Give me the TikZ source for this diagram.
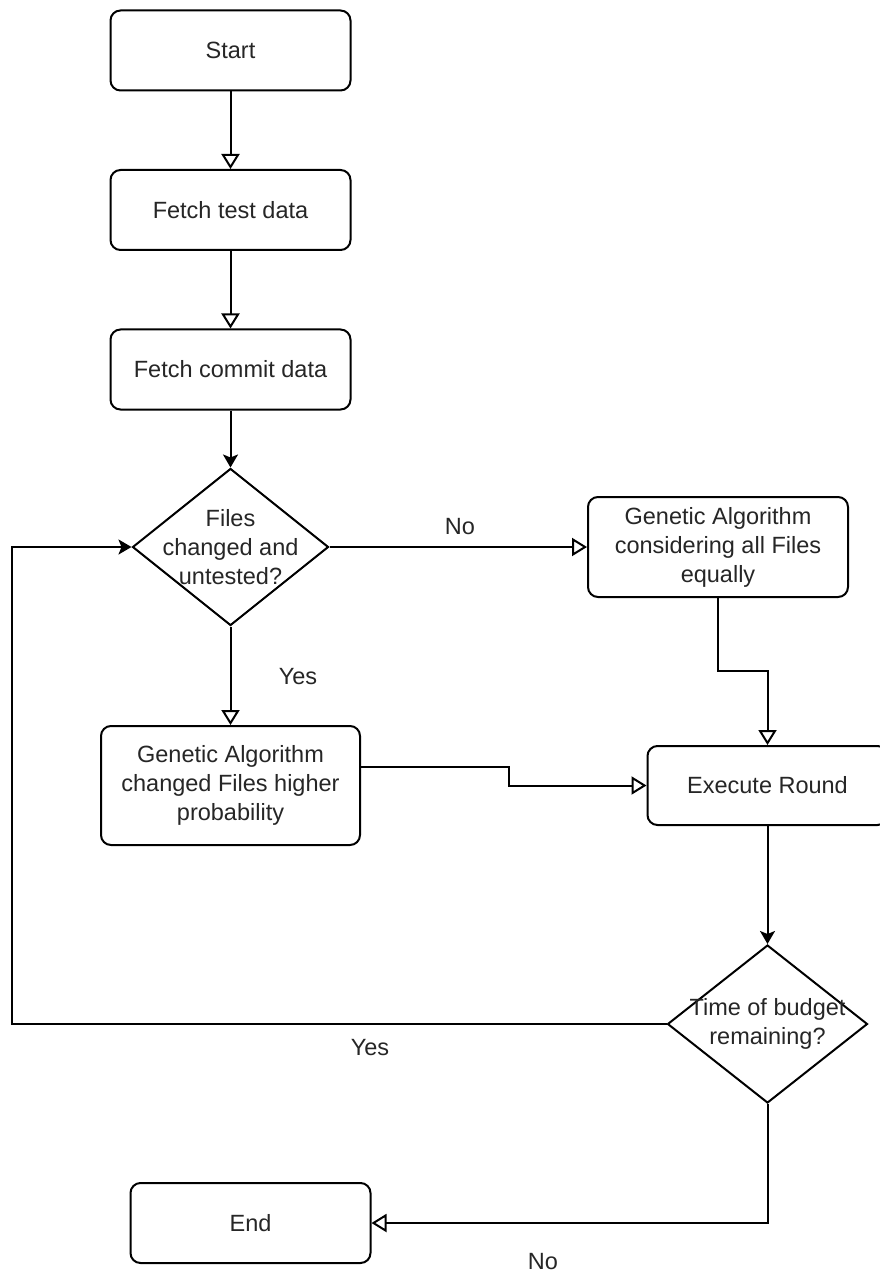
\documentclass[tikz,border=0pt]{standalone}
\usepackage{fontspec}
\setmainfont{Liberation Sans}
\usetikzlibrary{arrows.meta,shapes.geometric}
\begin{document}
\begin{tikzpicture}[x=0.5pt,y=-0.5pt,
  font=\fontsize{11.75pt}{14.5pt}\selectfont,
  line width=1pt,
  txt/.style={align=center,inner sep=0pt,text=black!85},
  procbox/.style={draw,rectangle,rounded corners=5pt,fill=white,
    minimum width=120pt,minimum height=40pt,txt},
  decision/.style={draw,diamond,fill=white,inner sep=0pt},
  lbl/.style={txt},
  openarrow/.style={-{Triangle[open,length=7.5pt,width=9pt]}},
  fullarrow/.style={-{Stealth[length=6.5pt,width=7.5pt,inset=1.5pt]}}]
\useasboundingbox (0,0) rectangle (879,1278);

% process boxes
\node[procbox] (start) at (230.5,50.5) {Start};
\node[procbox] (fetchtest) at (230.5,210) {Fetch test data};
\node[procbox] (fetchcommit) at (230.5,369.5) {Fetch commit data};
\node[procbox,minimum width=130pt,minimum height=50pt] (gaall) at (718,547)
  {Genetic Algorithm\\considering all Files\\equally};
\node[procbox,minimum width=129.5pt,minimum height=59.5pt] (gachanged) at (230.5,785.5)
  {Genetic Algorithm\\changed Files higher\\probability};
\node[procbox,minimum height=39.5pt] (exec) at (767.5,785.5) {Execute Round};
\node[procbox] (finish) at (250.5,1223) {End};

% decisions
\node[decision,minimum width=98pt,minimum height=78.5pt,
  label={[txt]center:{Files\\changed and\\untested?}}] (d1) at (230.5,547) {};
\node[decision,minimum width=100pt,minimum height=79pt,
  label={[txt]center:{Time of budget\\remaining?}}] (d2) at (767.5,1024) {};

% routing points
\coordinate (bend1) at (0,671);
\coordinate (bend2) at (509,0);
\coordinate (loopx) at (12,0);

% connectors
\draw[openarrow] (start) -- (fetchtest);
\draw[openarrow] (fetchtest) -- (fetchcommit);
\draw[fullarrow] (fetchcommit) -- (d1.north);
\draw[openarrow] (d1.east) -- (gaall.west);
\draw[openarrow] (d1.south) -- (gachanged.north);
\draw[openarrow] (gaall.south) -- (gaall.south |- bend1) -| (exec.north);
\draw[openarrow] ([yshift=9.5pt]gachanged.east) -| (bend2 |- exec.west) -- (exec.west);
\draw[fullarrow] (exec.south) -- (d2.north);
\draw[fullarrow] (d2.west) -| (loopx |- d1.west) -- (d1.west);
\draw[openarrow] (d2.south) |- (finish.east);

% edge labels
\node[lbl] (lno1) at (460,527) {No};
\node[lbl] (lyes1) at (298,677) {Yes};
\node[lbl] (lyes2) at (370,1048) {Yes};
\node[lbl] (lno2) at (543,1262) {No};
\end{tikzpicture}
\end{document}
